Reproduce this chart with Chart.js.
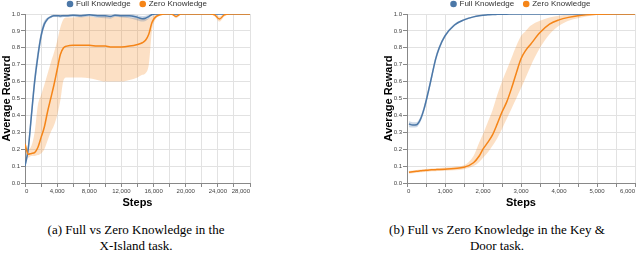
<!DOCTYPE html>
<html>
<head>
<meta charset="utf-8">
<script src="https://cdn.jsdelivr.net/npm/chart.js@4.4.1/dist/chart.umd.min.js"></script>
<style>
  body { margin: 0; background: #fff; width: 640px; height: 254px; position: relative; overflow: hidden; }
  canvas { position: absolute; }
  #xi { left: 0; top: -10px; }
  #kd { left: 382px; top: -10px; }
  .cap { position: absolute; top: 222px; font-family: "Liberation Serif", "Times New Roman", serif;
         font-size: 13px; line-height: 16px; text-align: center; color: #000; }
</style>
</head>
<body>
<canvas id="xi" width="260" height="224"></canvas>
<canvas id="kd" width="258" height="224"></canvas>
<div class="cap" style="left:0; width:272px;">(a) Full vs Zero Knowledge in the<br>X-Island task.</div>
<div class="cap" style="left:354px; width:286px;">(b) Full vs Zero Knowledge in the Key &amp;<br>Door task.</div>
<script>
// series labels
const seriesNames = ['Full Knowledge', 'Zero Knowledge'];

// (a) X-Island task
const xiSteps = [0, 400, 800, 1200, 1600, 2000, 2400, 2800, 3200, 3600, 4000, 4400, 4800, 5200, 6000, 7000, 8000, 9000, 10000, 10600, 11200, 12000, 13000, 14000, 14600, 15000, 15400, 15800, 16200, 16800, 17500, 18200, 18800, 19400, 20000, 21000, 22000, 23000, 23600, 24200, 24800, 25500, 26500, 28000];
const xiFull   = [0.10, 0.20, 0.40, 0.60, 0.75, 0.87, 0.94, 0.97, 0.983, 0.99, 0.99, 0.988, 0.99, 0.99, 0.993, 0.99, 0.995, 0.99, 0.99, 0.985, 0.993, 0.99, 0.99, 0.98, 0.972, 0.975, 0.985, 0.997, 1, 1, 1, 1, 1, 1, 1, 1, 1, 1, 1, 1, 1, 1, 1, 1];
const xiFullLo = [0.09, 0.17, 0.36, 0.56, 0.71, 0.84, 0.92, 0.96, 0.975, 0.982, 0.982, 0.978, 0.982, 0.982, 0.985, 0.98, 0.985, 0.978, 0.975, 0.972, 0.982, 0.98, 0.975, 0.962, 0.955, 0.958, 0.972, 0.99, 0.997, 1, 1, 1, 1, 1, 1, 1, 1, 1, 1, 1, 1, 1, 1, 1];
const xiFullHi = [0.12, 0.24, 0.45, 0.65, 0.79, 0.90, 0.96, 0.98, 0.99, 0.997, 0.997, 0.995, 0.997, 0.997, 1, 0.998, 1, 0.998, 0.998, 0.995, 1, 0.998, 0.998, 0.992, 0.988, 0.99, 0.995, 1, 1, 1, 1, 1, 1, 1, 1, 1, 1, 1, 1, 1, 1, 1, 1, 1];
const xiZero   = [0.23, 0.17, 0.175, 0.18, 0.21, 0.27, 0.33, 0.42, 0.50, 0.58, 0.67, 0.76, 0.80, 0.81, 0.815, 0.815, 0.815, 0.81, 0.81, 0.805, 0.805, 0.805, 0.81, 0.82, 0.83, 0.845, 0.88, 0.95, 0.98, 0.995, 1, 1, 0.985, 1, 1, 1, 1, 1, 0.995, 0.97, 0.995, 1, 1, 1];
const xiZeroLo = [0.20, 0.15, 0.16, 0.16, 0.165, 0.175, 0.20, 0.25, 0.30, 0.34, 0.40, 0.49, 0.61, 0.625, 0.625, 0.625, 0.62, 0.61, 0.60, 0.60, 0.60, 0.60, 0.61, 0.625, 0.64, 0.65, 0.70, 0.90, 0.965, 0.99, 1, 0.998, 0.975, 0.995, 1, 1, 1, 1, 0.985, 0.955, 0.985, 1, 1, 1];
const xiZeroHi = [0.25, 0.20, 0.22, 0.30, 0.46, 0.52, 0.58, 0.645, 0.71, 0.77, 0.84, 0.92, 0.97, 0.98, 0.98, 0.985, 0.985, 0.98, 0.985, 0.98, 0.985, 0.985, 0.98, 0.975, 0.97, 0.97, 0.975, 0.985, 0.995, 1, 1, 1, 0.995, 1, 1, 1, 1, 1, 1, 0.985, 1, 1, 1, 1];

// (b) Key & Door task
const kdSteps = [50, 150, 250, 350, 450, 550, 650, 750, 850, 1000, 1250, 1500, 1750, 1900, 2000, 2125, 2250, 2375, 2500, 2625, 2750, 2875, 3000, 3125, 3250, 3500, 3750, 4000, 4250, 4500, 5000, 5500, 6000];
const kdFull   = [0.35, 0.343, 0.345, 0.375, 0.44, 0.53, 0.63, 0.73, 0.80, 0.87, 0.935, 0.965, 0.983, 0.99, 0.993, 0.995, 0.997, 0.998, 0.999, 0.999, 1, 1, 1, 1, 1, 1, 1, 1, 1, 1, 1, 1, 1];
const kdFullLo = [0.33, 0.328, 0.33, 0.36, 0.42, 0.51, 0.61, 0.71, 0.785, 0.86, 0.928, 0.96, 0.98, 0.987, 0.99, 0.993, 0.995, 0.997, 0.998, 0.998, 0.999, 1, 1, 1, 1, 1, 1, 1, 1, 1, 1, 1, 1];
const kdFullHi = [0.365, 0.36, 0.36, 0.39, 0.46, 0.55, 0.65, 0.75, 0.815, 0.88, 0.942, 0.97, 0.986, 0.993, 0.996, 0.997, 0.999, 1, 1, 1, 1, 1, 1, 1, 1, 1, 1, 1, 1, 1, 1, 1, 1];
const kdZero   = [0.063, 0.066, 0.069, 0.072, 0.074, 0.076, 0.078, 0.079, 0.08, 0.082, 0.086, 0.093, 0.12, 0.16, 0.20, 0.24, 0.285, 0.35, 0.42, 0.48, 0.56, 0.65, 0.735, 0.785, 0.82, 0.89, 0.94, 0.965, 0.98, 0.99, 0.998, 1, 1];
const kdZeroLo = [0.055, 0.057, 0.06, 0.063, 0.065, 0.067, 0.069, 0.07, 0.071, 0.073, 0.076, 0.082, 0.10, 0.125, 0.15, 0.18, 0.22, 0.265, 0.32, 0.38, 0.44, 0.50, 0.56, 0.625, 0.69, 0.80, 0.88, 0.93, 0.96, 0.975, 0.995, 1, 1];
const kdZeroHi = [0.071, 0.074, 0.077, 0.08, 0.082, 0.084, 0.086, 0.088, 0.089, 0.091, 0.096, 0.105, 0.16, 0.24, 0.29, 0.36, 0.43, 0.52, 0.60, 0.67, 0.74, 0.81, 0.87, 0.90, 0.93, 0.96, 0.98, 0.99, 0.995, 0.998, 1, 1, 1];

const blue = '#4c78a8', orange = '#f58518';
const blueBand = 'rgba(76,120,168,0.28)', orangeBand = 'rgba(245,133,24,0.25)';

Chart.defaults.font.family = '"Liberation Sans", Arial, sans-serif';
Chart.defaults.color = '#444';

function pts(xs, ys) {
    return xs.map((x, i) => ({ x: x, y: ys[i] }));
}

function line(label, xs, ys, color, order) {
    return { label: label, data: pts(xs, ys), borderColor: color, backgroundColor: color,
        borderWidth: 1.5, pointRadius: 0, cubicInterpolationMode: 'monotone', fill: false, order: order };
}

function band(xs, ys, color, fill) {
    return { label: '', band: true, data: pts(xs, ys), borderColor: 'rgba(0,0,0,0)', backgroundColor: color,
        borderWidth: 0, pointRadius: 0, cubicInterpolationMode: 'monotone', fill: fill, order: 2 };
}

function makeChart(id, xs, full, fullLo, fullHi, zero, zeroLo, zeroHi, xMax, step, labelEvery, padRight) {
    new Chart(document.getElementById(id), {
        type: 'line',
        data: {
            datasets: [
                line(seriesNames[0], xs, full, blue, 1),
                line(seriesNames[1], xs, zero, orange, 0),
                band(xs, fullLo, blueBand, false),
                band(xs, fullHi, blueBand, '-1'),
                band(xs, zeroLo, orangeBand, false),
                band(xs, zeroHi, orangeBand, '-1')
            ]
        },
        options: {
            responsive: false,
            animation: false,
            devicePixelRatio: 1,
            layout: { padding: { left: 0, right: padRight, top: 0, bottom: 0 } },
            plugins: {
                tooltip: { enabled: false },
                legend: {
                    position: 'top',
                    fullSize: false,
                    maxHeight: 24,
                    labels: {
                        usePointStyle: true, pointStyle: 'circle', boxWidth: 4, boxHeight: 3.6,
                        padding: 10, color: '#333', font: { size: 8, lineHeight: 1 },
                        filter: (item, data) => !data.datasets[item.datasetIndex].band,
                        sort: (a, b) => a.datasetIndex - b.datasetIndex
                    }
                }
            },
            scales: {
                x: {
                    type: 'linear', min: 0, max: xMax,
                    afterFit: s => { s.height = 31; },
                    border: { color: '#888' },
                    grid: { color: '#e2e2e2', tickColor: '#888', tickLength: 4 },
                    ticks: {
                        stepSize: step, autoSkip: false, maxRotation: 0, align: 'inner', padding: 1,
                        font: { size: 6 }, color: '#444',
                        callback: v => (v % labelEvery === 0 ? v.toLocaleString('en-US') : '')
                    },
                    title: { display: true, text: 'Steps', color: '#000', font: { size: 11, weight: 'bold' },
                        padding: { top: 0, bottom: 4 } }
                },
                y: {
                    min: 0, max: 1,
                    afterFit: s => { s.width = 25; },
                    border: { color: '#888' },
                    grid: { color: '#e2e2e2', tickColor: '#888', tickLength: 4 },
                    ticks: { stepSize: 0.1, padding: 1, font: { size: 6 }, color: '#444',
                        callback: v => v.toFixed(1) },
                    title: { display: true, text: 'Average Reward', color: '#000', font: { size: 11, weight: 'bold' },
                        padding: { top: 0, bottom: 0 } }
                }
            }
        }
    });
}

makeChart('xi', xiSteps, xiFull, xiFullLo, xiFullHi, xiZero, xiZeroLo, xiZeroHi, 28000, 2000, 4000, 10);
makeChart('kd', kdSteps, kdFull, kdFullLo, kdFullHi, kdZero, kdZeroLo, kdZeroHi, 6000, 500, 1000, 5);
</script>
</body>
</html>
